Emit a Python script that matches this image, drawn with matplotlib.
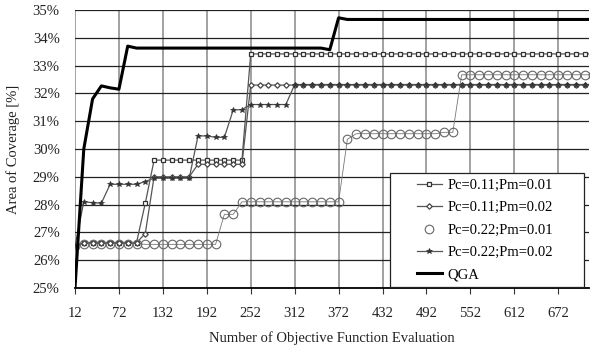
import matplotlib
matplotlib.use("Agg")
import matplotlib.pyplot as plt
from matplotlib.patches import Rectangle

plt.rcParams['font.family'] = ['Liberation Serif', 'DejaVu Serif']

# number of objective function evaluations (category axis)
evals = [12, 24, 36, 48, 60, 72, 84, 96, 108, 120,
         132, 144, 156, 168, 180, 192, 204, 216, 228, 240,
         252, 264, 276, 288, 300, 312, 324, 336, 348, 360,
         372, 384, 396, 408, 420, 432, 444, 456, 468, 480,
         492, 504, 516, 528, 540, 552, 564, 576, 588, 600,
         612, 624, 636, 648, 660, 672, 684, 696, 708, 720]

# area of coverage [%]
pc011_pm001 = [26.50, 26.63, 26.63, 26.63, 26.63, 26.63, 26.63, 26.63, 28.05, 29.60,
               29.60, 29.60, 29.60, 29.60, 29.60, 29.60, 29.60, 29.60, 29.60, 29.60,
               33.42, 33.42, 33.42, 33.42, 33.42, 33.42, 33.42, 33.42, 33.42, 33.42,
               33.42, 33.42, 33.42, 33.42, 33.42, 33.42, 33.42, 33.42, 33.42, 33.42,
               33.42, 33.42, 33.42, 33.42, 33.42, 33.42, 33.42, 33.42, 33.42, 33.42,
               33.42, 33.42, 33.42, 33.42, 33.42, 33.42, 33.42, 33.42, 33.42, 33.42]

pc011_pm002 = [26.50, 26.63, 26.63, 26.63, 26.63, 26.63, 26.63, 26.63, 26.96, 29.00,
               29.00, 29.00, 29.00, 29.00, 29.45, 29.45, 29.45, 29.45, 29.45, 29.45,
               32.30, 32.30, 32.30, 32.30, 32.30, 32.30, 32.30, 32.30, 32.30, 32.30,
               32.30, 32.30, 32.30, 32.30, 32.30, 32.30, 32.30, 32.30, 32.30, 32.30,
               32.30, 32.30, 32.30, 32.30, 32.30, 32.30, 32.30, 32.30, 32.30, 32.30,
               32.30, 32.30, 32.30, 32.30, 32.30, 32.30, 32.30, 32.30, 32.30, 32.30]

pc022_pm001 = [26.50, 26.60, 26.60, 26.60, 26.60, 26.60, 26.60, 26.60, 26.57, 26.57,
               26.57, 26.57, 26.57, 26.57, 26.57, 26.57, 26.57, 27.65, 27.65, 28.10,
               28.10, 28.10, 28.10, 28.10, 28.10, 28.10, 28.10, 28.10, 28.10, 28.10,
               28.10, 30.35, 30.55, 30.55, 30.55, 30.55, 30.55, 30.55, 30.55, 30.55,
               30.55, 30.55, 30.60, 30.60, 32.67, 32.67, 32.67, 32.67, 32.67, 32.67,
               32.67, 32.67, 32.67, 32.67, 32.67, 32.67, 32.67, 32.67, 32.67, 32.67]

pc022_pm002 = [26.50, 28.10, 28.07, 28.05, 28.73, 28.73, 28.73, 28.73, 28.83, 28.95,
               28.95, 28.95, 28.95, 28.95, 30.47, 30.47, 30.42, 30.42, 31.40, 31.42,
               31.60, 31.60, 31.60, 31.60, 31.60, 32.32, 32.32, 32.32, 32.32, 32.32,
               32.32, 32.32, 32.32, 32.32, 32.32, 32.32, 32.32, 32.32, 32.32, 32.32,
               32.32, 32.32, 32.32, 32.32, 32.32, 32.32, 32.32, 32.32, 32.32, 32.32,
               32.32, 32.32, 32.32, 32.32, 32.32, 32.32, 32.32, 32.32, 32.32, 32.32]

qga = [25.00, 30.00, 31.80, 32.27, 32.20, 32.15, 33.70, 33.63, 33.63, 33.63,
       33.63, 33.63, 33.63, 33.63, 33.63, 33.63, 33.63, 33.63, 33.63, 33.63,
       33.63, 33.63, 33.63, 33.63, 33.63, 33.63, 33.63, 33.63, 33.63, 33.57,
       34.72, 34.66, 34.66, 34.66, 34.66, 34.66, 34.66, 34.66, 34.66, 34.66,
       34.66, 34.66, 34.66, 34.66, 34.66, 34.66, 34.66, 34.66, 34.66, 34.66,
       34.66, 34.66, 34.66, 34.66, 34.66, 34.66, 34.66, 34.66, 34.66, 34.66]

labels = ['Pc=0.11;Pm=0.01', 'Pc=0.11;Pm=0.02', 'Pc=0.22;Pm=0.01',
          'Pc=0.22;Pm=0.02', 'QGA']
xticks = [12, 72, 132, 192, 252, 312, 372, 432, 492, 552, 612, 672]
yticks = [25, 26, 27, 28, 29, 30, 31, 32, 33, 34, 35]

gray = '#555555'
txt = '#222222'
fs = 10.5

fig = plt.figure(figsize=(5.9, 3.5), dpi=100)
ax = fig.add_axes([75/590, 1 - 288/350, (589 - 75)/590, (288 - 10)/350])

ax.plot(evals, pc011_pm001, color=gray, lw=0.9, marker='s', ms=3.4,
        mfc='white', mec='#333333', mew=0.9, label=labels[0], zorder=3)
ax.plot(evals, pc011_pm002, color=gray, lw=0.9, marker='D', ms=2.8,
        mfc='white', mec='#444444', mew=0.9, label=labels[1], zorder=3)
# thin connector for the circle series, legend only shows the marker
ax.plot(evals, pc022_pm001, color='#777777', lw=0.6, zorder=2)
ax.plot(evals, pc022_pm001, ls='none', marker='o', ms=6.2,
        mfc='none', mec='#666666', mew=0.8, label=labels[2], zorder=3)
ax.plot(evals, pc022_pm002, color=gray, lw=0.9, marker='*', ms=4.0,
        mfc='#333333', mec='#333333', mew=0.5, label=labels[3], zorder=3)
ax.plot(evals, qga, color='black', lw=2.2, label=labels[4], zorder=4)

ax.set_xlim(12, 714)
ax.set_ylim(25, 35)
ax.set_xticks(xticks)
ax.set_xticklabels([str(t) for t in xticks])
ax.set_yticks(yticks)
ax.set_yticklabels([f'{t}%' for t in yticks])

ax.grid(axis='x', color='#9a9a9a', lw=1.3)
ax.grid(axis='y', color='#222222', lw=0.9)
ax.set_axisbelow(True)

for side in ['top', 'right', 'left']:
    ax.spines[side].set_visible(False)
ax.spines['bottom'].set_color('black')
ax.spines['bottom'].set_linewidth(1.3)

ax.tick_params(axis='x', direction='out', length=4, width=0.8,
               color='#333333', pad=10, labelsize=fs, labelcolor=txt)
ax.tick_params(axis='y', length=0, pad=11, labelsize=fs, labelcolor=txt)

ax.set_xlabel('Number of Objective Function Evaluation', fontsize=fs,
              color=txt, labelpad=8)
ax.set_ylabel('Area of Coverage [%]', fontsize=fs, color=txt, labelpad=9)

# legend box is wider than its entries in the reference, so draw it separately
box = Rectangle((0.613, 0.004), 0.377, 0.41, transform=ax.transAxes,
                facecolor='white', edgecolor=txt, lw=0.9, zorder=5)
ax.add_patch(box)
leg = ax.legend(loc='upper left', bbox_to_anchor=(0.665, 0.393), fontsize=fs,
                frameon=False, handlelength=1.7, handletextpad=0.4,
                labelspacing=0.63, borderpad=0, borderaxespad=0)
leg.set_zorder(6)

fig.savefig('out.png', dpi=100)
